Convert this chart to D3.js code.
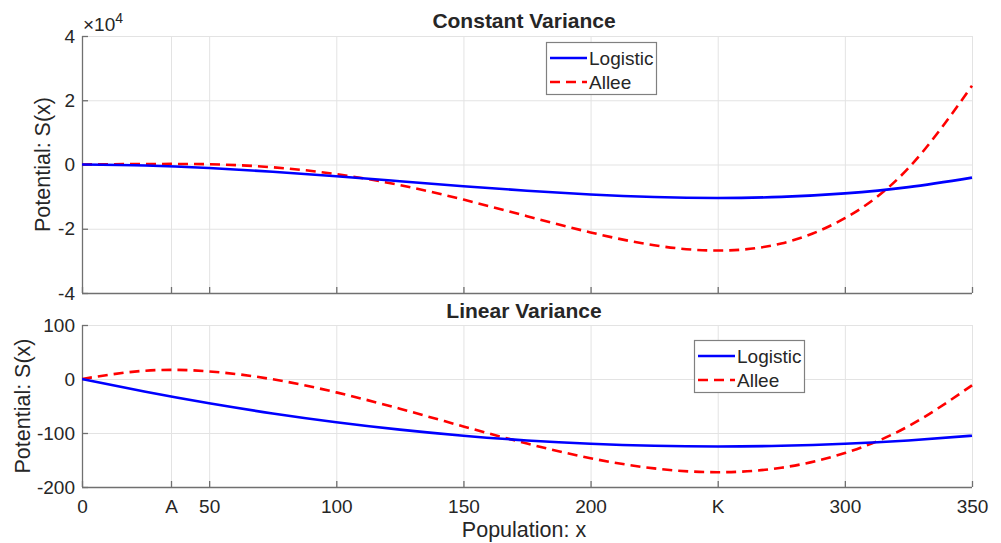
<!DOCTYPE html>
<html><head><meta charset="utf-8">
<script src="https://cdn.jsdelivr.net/npm/d3@7"></script>
<style>
body{margin:0;background:#fff;}
text{font-family:"Liberation Sans",Arial,sans-serif;fill:#262626;}
</style></head>
<body><svg id="c" width="1001" height="543"></svg>
<script>
// population values
const xs = [0,25,50,75,100,125,150,175,200,225,250,275,300,325,350];
// Constant variance potential (units of 1e4 shown on axis)
const constLogistic = [0,-291.7,-1083.3,-2250,-3666.7,-5208.3,-6750,-8166.7,-9333.3,-10125,-10416.7,-10083.3,-9000,-7041.7,-4083.3];
const constAllee = [0,154.0,71.4,-863.8,-3000,-6417.4,-10928.6,-16078.1,-21142.9,-25131.7,-26785.7,-24578.2,-16714.3,-1131.7,24500];
// Linear variance potential
const linLogistic = [0,-23.75,-45,-63.75,-80,-93.75,-105,-113.75,-120,-123.75,-125,-123.75,-120,-113.75,-105];
const linAllee = [0,15.42,14.05,-0.54,-24.76,-55.06,-87.86,-119.58,-146.67,-165.54,-172.62,-164.35,-137.14,-87.44,-11.67];
// axis ticks
const xTickVals = [0,35,50,100,150,200,250,300,350];
const xTickLabels = ["0","A","50","100","150","200","K","300","350"];
const topYTicks = [-4,-2,0,2,4];
const botYTicks = [-200,-100,0,100];
const seriesNames = ["Logistic","Allee"];
const colors = ["#0000ff","#ff0000"];

const svg = d3.select("#c");
const L = 82, R = 972;
const x = d3.scaleLinear().domain([0,350]).range([L,R]);

function panel(o){
  const g = svg.append("g");
  const y = d3.scaleLinear().domain(o.ydom).range([o.bottom,o.top]);
  // grid
  g.selectAll(".gx").data(xTickVals).join("line")
    .attr("x1",d=>x(d)+0.5).attr("x2",d=>x(d)+0.5).attr("y1",o.top).attr("y2",o.bottom)
    .attr("stroke","#e3e3e3").attr("stroke-width",1);
  g.selectAll(".gy").data(o.yticks).join("line")
    .attr("x1",L).attr("x2",R).attr("y1",d=>y(d)+0.5).attr("y2",d=>y(d)+0.5)
    .attr("stroke","#e3e3e3").attr("stroke-width",1);
  // axes
  const xa = d3.axisBottom(x).tickValues(xTickVals).tickSize(-6).tickPadding(13)
    .tickFormat((d,i)=>o.showX?xTickLabels[i]:"");
  const xg = g.append("g").attr("transform",`translate(0,${o.bottom})`).call(xa);
  const ya = d3.axisLeft(y).tickValues(o.yticks).tickSize(-6).tickPadding(7).tickFormat(o.yfmt);
  const yg = g.append("g").attr("transform",`translate(${L},0)`).call(ya);
  [xg,yg].forEach(a=>{
    a.select(".domain").attr("stroke","#707070").attr("stroke-width",1.3);
    a.selectAll(".tick line").attr("stroke","#707070").attr("stroke-width",1.3);
    a.selectAll("text").style("font-family","'Liberation Sans',Arial,sans-serif").style("font-size","19px").attr("fill","#262626");
  });
  yg.select(".domain").attr("d",`M0.5,${o.top}V${o.bottom}`);
  xg.select(".domain").attr("d",`M${L},0.5H${R}`);
  // lines
  const line = d3.line().x((d,i)=>x(xs[i])).y(d=>y(d/o.div)).curve(d3.curveNatural);
  const clip = g.append("clipPath").attr("id","cl"+o.id).append("rect")
    .attr("x",L).attr("y",o.top-2).attr("width",R-L+2).attr("height",o.bottom-o.top+4);
  g.append("path").datum(o.s2).attr("d",line).attr("fill","none").attr("stroke",colors[1])
    .attr("stroke-width",2.6).attr("stroke-dasharray","10,6").attr("clip-path",`url(#cl${o.id})`);
  g.append("path").datum(o.s1).attr("d",line).attr("fill","none").attr("stroke",colors[0])
    .attr("stroke-width",2.6).attr("clip-path",`url(#cl${o.id})`);
  // title
  g.append("text").attr("x",524).attr("y",o.titleY).attr("text-anchor","middle")
    .style("font-size","21px").style("font-weight","bold").attr("fill","#000").text(o.title);
  // y label
  g.append("text").attr("transform",`translate(${o.ylabX},${(o.top+o.bottom)/2}) rotate(-90)`)
    .attr("text-anchor","middle").style("font-size","21.5px").text("Potential: S(x)");
  // legend
  const lg = g.append("g").attr("transform",`translate(${o.leg[0]},${o.leg[1]})`);
  lg.append("rect").attr("x",0.5).attr("y",0.5).attr("width",110).attr("height",52)
    .attr("fill","#fff").attr("stroke","#808080").attr("stroke-width",1.2);
  seriesNames.forEach((n,i)=>{
    const cy = 16 + i*24;
    lg.append("line").attr("x1",4).attr("x2",41).attr("y1",cy).attr("y2",cy)
      .attr("stroke",colors[i]).attr("stroke-width",2.6).attr("stroke-dasharray",i?"10,6":null);
    lg.append("text").attr("x",43).attr("y",cy+7).style("font-size","19px").attr("fill","#000").text(n);
  });
  return g;
}

panel({id:1,top:36,bottom:293,ydom:[-4,4],yticks:topYTicks,div:1e4,yfmt:d=>d,showX:false,
  s1:constLogistic,s2:constAllee,title:"Constant Variance",titleY:28,ylabX:50,leg:[546,42]});
panel({id:2,top:325,bottom:487,ydom:[-200,100],yticks:botYTicks,div:1,yfmt:d=>d,showX:true,
  s1:linLogistic,s2:linAllee,title:"Linear Variance",titleY:318,ylabX:30,leg:[694,340]});

// exponent label
const ex = svg.append("text").attr("x",83).attr("y",31).style("font-size","19px");
ex.append("tspan").text("\u00d710");
ex.append("tspan").attr("dy",-8).style("font-size","14px").text("4");

// x label
svg.append("text").attr("x",524).attr("y",537).attr("text-anchor","middle")
  .style("font-size","21.5px").text("Population: x");
</script></body></html>
